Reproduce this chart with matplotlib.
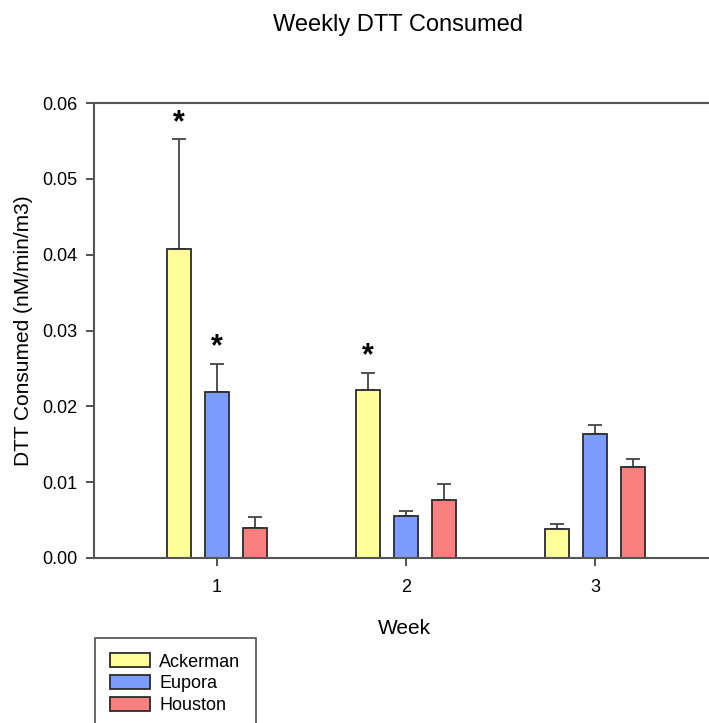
import matplotlib
matplotlib.use("Agg")
import matplotlib.pyplot as plt
import numpy as np

plt.rcParams["font.family"] = ["Liberation Sans", "DejaVu Sans"]

weeks = [1, 2, 3]
sites = ["Ackerman", "Eupora", "Houston"]
colors = ["#FFFF99", "#7C9DFF", "#FA8080"]

ackerman = [0.0408, 0.0221, 0.0038]
ackerman_err = [0.0144, 0.0023, 0.0007]
eupora = [0.0219, 0.0055, 0.0164]
eupora_err = [0.0037, 0.0007, 0.0012]
houston = [0.0040, 0.0076, 0.0120]
houston_err = [0.0014, 0.0022, 0.0010]

# significance markers (asterisks)
ackerman_sig = [True, True, False]
eupora_sig = [True, False, False]
houston_sig = [False, False, False]

means = [ackerman, eupora, houston]
errs = [ackerman_err, eupora_err, houston_err]
sigs = [ackerman_sig, eupora_sig, houston_sig]

fig = plt.figure(figsize=(7.09, 7.23), dpi=100)
ax = fig.add_axes([94 / 709, 1 - 558 / 723, 624 / 709, 455 / 723])

x = np.array(weeks, dtype=float)
offsets = [-0.2, 0.0, 0.2]
width = 0.125
edge = "#2b2b2b"

for vals, err, sig, off, col, name in zip(means, errs, sigs, offsets, colors, sites):
    xs = x + off
    ax.bar(xs, vals, width=width, color=col, edgecolor=edge, linewidth=1.3,
           label=name, zorder=2)
    ax.errorbar(xs, vals, yerr=[np.zeros(len(err)), err], fmt="none",
                ecolor="#444444", elinewidth=1.3, capsize=5, capthick=1.3, zorder=1)
    for xi, v, e, s in zip(xs, vals, err, sig):
        if s:
            ax.annotate("*", (xi, v + e), xytext=(0, 1), textcoords="offset points",
                        ha="center", va="bottom", fontsize=22, fontweight="bold")

ax.set_xlim(0.35, 3.65)
ax.set_ylim(0, 0.06)
ax.set_xticks(weeks)
ax.set_xticklabels([str(w) for w in weeks])
ax.set_yticks(np.arange(0, 0.061, 0.01))
ax.set_yticklabels([f"{t:.2f}" for t in np.arange(0, 0.061, 0.01)])
ax.tick_params(axis="both", labelsize=13, length=6, width=1.3, color="#444444",
               direction="out", pad=6)
ax.tick_params(axis="x", pad=9)

for side in ["top", "bottom", "left", "right"]:
    ax.spines[side].set_color("#555555")
    ax.spines[side].set_linewidth(1.5)

ax.set_xlabel("Week", fontsize=15)
ax.xaxis.set_label_coords(0.498, -0.133)
ax.set_ylabel("DTT Consumed (nM/min/m3)", fontsize=15)
ax.yaxis.set_label_coords(-0.097, 0.5)

fig.text(398 / 709, 1 - 25 / 723, "Weekly DTT Consumed", ha="center", va="center",
         fontsize=17)

handles, labels = ax.get_legend_handles_labels()
leg = fig.legend(handles, labels, loc="upper left",
                 bbox_to_anchor=(95 / 709, 1 - 638 / 723), fontsize=13,
                 frameon=True, fancybox=False, edgecolor="#222222",
                 handlelength=2.2, handleheight=0.8, labelspacing=0.26,
                 borderpad=0.85, handletextpad=0.5, borderaxespad=0)
leg.get_frame().set_linewidth(1.2)

fig.savefig("out.png", dpi=100)
